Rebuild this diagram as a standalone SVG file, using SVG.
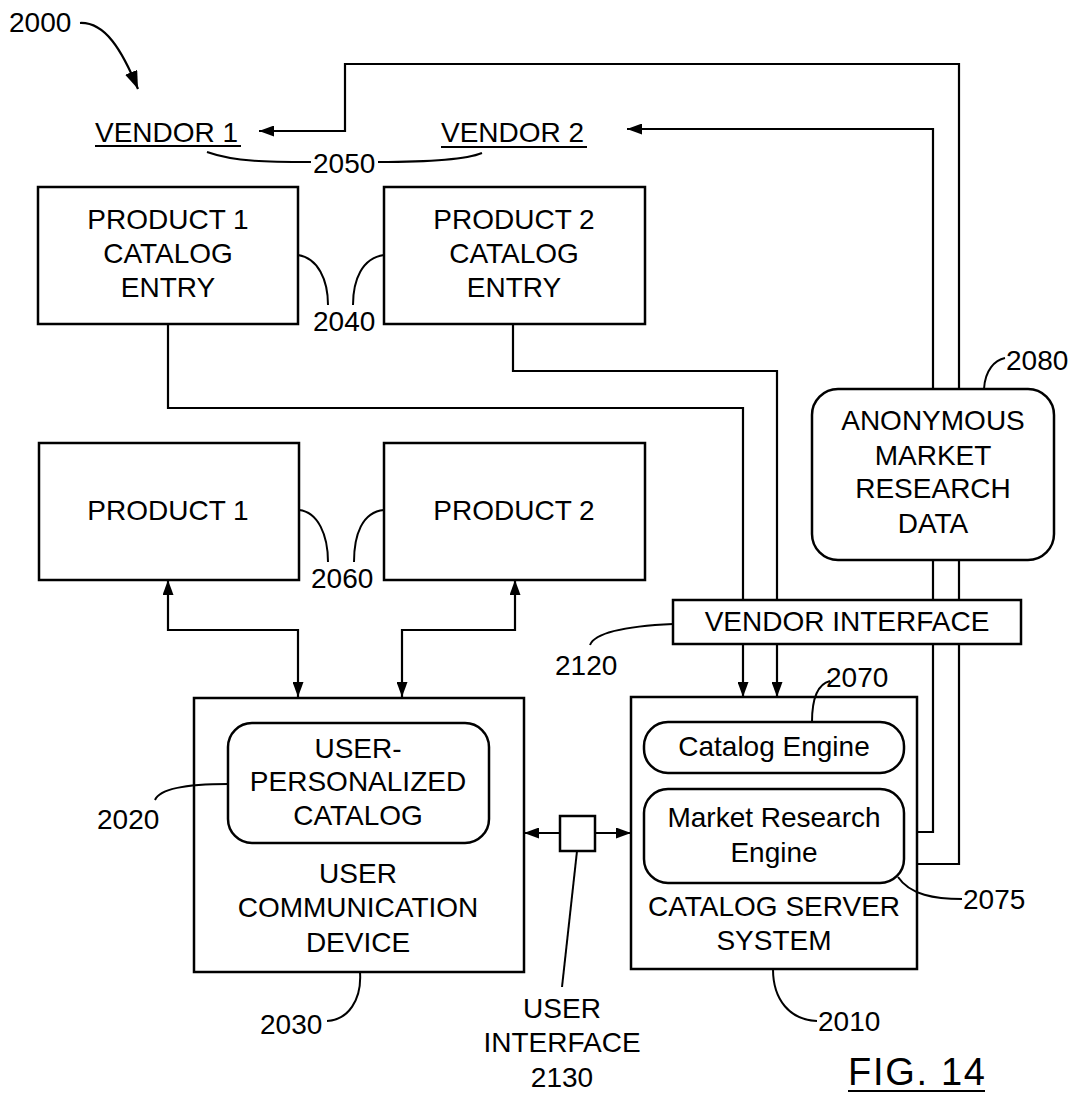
<svg xmlns="http://www.w3.org/2000/svg" width="1075" height="1095" viewBox="0 0 1075 1095">
<style>
text{font-family:"Liberation Sans",Arial,sans-serif;font-size:28px;fill:#000}
.c{text-anchor:middle}
.fig{font-size:38px}
.box{fill:#fff;stroke:#000;stroke-width:2.5}
.ln{fill:none;stroke:#000;stroke-width:2.2}
.ld{fill:none;stroke:#000;stroke-width:2}
</style>
<defs>
<marker id="ah" viewBox="0 0 15 11" refX="15" refY="5.5" markerWidth="15" markerHeight="11" markerUnits="userSpaceOnUse" orient="auto-start-reverse">
<path d="M0,0 L15,5.5 L0,11 z" fill="#000"/>
</marker>
<marker id="ah2" viewBox="0 0 18 13" refX="18" refY="6.5" markerWidth="18" markerHeight="13" markerUnits="userSpaceOnUse" orient="auto">
<path d="M0,0 L18,6.5 L0,13 z" fill="#000"/>
</marker>
</defs>
<rect width="1075" height="1095" fill="#fff"/>

<g id="connectors">
<path class="ln" d="M917,864 H959 V64 H345 V131 H259" marker-end="url(#ah)"/>
<path class="ln" d="M917,832 H933 V129 H627" marker-end="url(#ah)"/>
<path class="ln" d="M168,324 V408 H743 V697" marker-end="url(#ah)"/>
<path class="ln" d="M513,324 V371 H777 V697" marker-end="url(#ah)"/>
<path class="ln" d="M168,580 V630 H298 V697" marker-start="url(#ah)" marker-end="url(#ah)"/>
<path class="ln" d="M515,580 V630 H402 V697" marker-start="url(#ah)" marker-end="url(#ah)"/>
<path class="ln" d="M524,833 H631" marker-start="url(#ah)" marker-end="url(#ah)"/>
<path class="ln" d="M80,23 C105,22 122,50 138,89" stroke-width="2.5" marker-end="url(#ah2)"/>
</g>

<g id="vendor1">
<text x="95" y="142">VENDOR 1</text>
<line class="ld" x1="95" y1="146" x2="241" y2="146"/>
</g>
<g id="vendor2">
<text x="441" y="142">VENDOR 2</text>
<line class="ld" x1="441" y1="147" x2="587" y2="147"/>
</g>

<g id="product1-catalog-entry">
<rect class="box" x="38" y="187" width="260" height="137"/>
<text class="c" x="168" y="229">PRODUCT 1</text>
<text class="c" x="168" y="263">CATALOG</text>
<text class="c" x="168" y="297">ENTRY</text>
</g>
<g id="product2-catalog-entry">
<rect class="box" x="384" y="187" width="261" height="137"/>
<text class="c" x="514" y="229">PRODUCT 2</text>
<text class="c" x="514" y="263">CATALOG</text>
<text class="c" x="514" y="297">ENTRY</text>
</g>

<g id="product1">
<rect class="box" x="39" y="443" width="260" height="137"/>
<text class="c" x="168" y="520">PRODUCT 1</text>
</g>
<g id="product2">
<rect class="box" x="384" y="443" width="261" height="137"/>
<text class="c" x="514" y="520">PRODUCT 2</text>
</g>

<g id="anonymous-data">
<rect class="box" x="812" y="389" width="242" height="171" rx="26"/>
<text class="c" x="933" y="430">ANONYMOUS</text>
<text class="c" x="933" y="465">MARKET</text>
<text class="c" x="933" y="498">RESEARCH</text>
<text class="c" x="933" y="533">DATA</text>
</g>

<g id="vendor-interface">
<rect class="box" x="673" y="600" width="348" height="44"/>
<text class="c" x="847" y="631">VENDOR INTERFACE</text>
</g>

<g id="user-communication-device">
<rect class="box" x="194" y="698" width="330" height="274"/>
<rect class="box" x="228" y="723" width="261" height="120" rx="24"/>
<text class="c" x="358" y="758">USER-</text>
<text class="c" x="358" y="791">PERSONALIZED</text>
<text class="c" x="358" y="825">CATALOG</text>
<text class="c" x="358" y="883">USER</text>
<text class="c" x="358" y="917">COMMUNICATION</text>
<text class="c" x="358" y="952">DEVICE</text>
</g>

<g id="user-interface">
<rect class="box" x="560" y="816" width="35" height="35" stroke-width="2"/>
</g>

<g id="catalog-server-system">
<rect class="box" x="631" y="697" width="286" height="272"/>
<rect class="box" x="644" y="722" width="260" height="51" rx="24"/>
<text class="c" x="774" y="756">Catalog Engine</text>
<rect class="box" x="644" y="789" width="260" height="94" rx="24"/>
<text class="c" x="774" y="827">Market Research</text>
<text class="c" x="774" y="862">Engine</text>
<text class="c" x="774" y="916">CATALOG SERVER</text>
<text class="c" x="774" y="950">SYSTEM</text>
</g>

<g id="labels">
<text x="9" y="32">2000</text>
<path class="ld" d="M207,152 C235,162 270,162 311,162"/>
<text x="313" y="173">2050</text>
<path class="ld" d="M378,162 C420,162 465,160 482,153"/>
<path class="ld" d="M298,255 C318,258 328,280 328,305"/>
<path class="ld" d="M384,255 C362,258 353,280 353,305"/>
<text x="313" y="331">2040</text>
<path class="ld" d="M299,510 C318,512 328,535 328,562"/>
<path class="ld" d="M384,510 C362,512 354,535 354,562"/>
<text x="311" y="588">2060</text>
<path class="ld" d="M984,389 C985,370 995,360 1005,358"/>
<text x="1006" y="370">2080</text>
<path class="ld" d="M673,624 C630,626 595,632 590,645"/>
<text x="555" y="675">2120</text>
<path class="ld" d="M812,722 C812,698 818,684 830,681"/>
<text x="826" y="687">2070</text>
<path class="ld" d="M228,784 C190,784 160,788 155,800"/>
<text x="97" y="829">2020</text>
<path class="ld" d="M898,877 C910,895 935,899 962,899"/>
<text x="963" y="909">2075</text>
<path class="ld" d="M360,972 C362,1000 348,1020 327,1021"/>
<text x="260" y="1034">2030</text>
<path class="ld" d="M577,851 L562,987"/>
<text class="c" x="562" y="1018">USER</text>
<text class="c" x="562" y="1052">INTERFACE</text>
<text class="c" x="562" y="1087">2130</text>
<path class="ld" d="M773,969 C773,1000 790,1020 817,1021"/>
<text x="818" y="1031">2010</text>
<text class="fig" x="848" y="1085" textLength="137">FIG. 14</text>
<line class="ld" x1="848" y1="1091" x2="985" y2="1091"/>
</g>
</svg>
